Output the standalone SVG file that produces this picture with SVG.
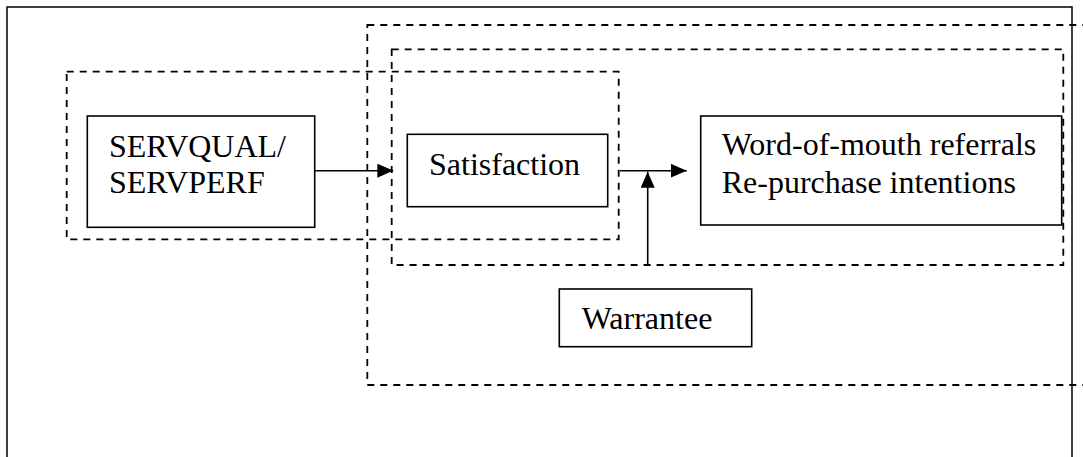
<svg xmlns="http://www.w3.org/2000/svg" width="1083" height="457" viewBox="0 0 1083 457">
<style>
.box{fill:#fff;stroke:#000;stroke-width:1.6}
.frame{fill:none;stroke:#000;stroke-width:1.5}
.dash{fill:none;stroke:#000;stroke-width:1.8;stroke-dasharray:7 6}
.t{font-family:"Liberation Serif","Times New Roman",serif;font-size:32px;fill:#000}
.c{fill:none;stroke:#000;stroke-width:1.6}
</style>
<defs>
<marker id="ah" viewBox="0 0 16 14" refX="16" refY="7" markerWidth="16" markerHeight="14" markerUnits="userSpaceOnUse" orient="auto">
<path d="M0,0 L16,7 L0,14 Z" fill="#000"/>
</marker>
</defs>
<rect width="1083" height="457" fill="#fff"/>
<rect class="frame" x="7" y="7" width="1065" height="470"/>
<g id="groups">
<rect class="dash" x="367.3" y="25" width="740" height="360"/>
<rect class="dash" x="391.7" y="49.3" width="671.6" height="215.7"/>
<rect class="dash" x="66.7" y="71.7" width="552" height="167.6"/>
</g>
<g id="connectors">
<line class="c" x1="314.7" y1="170.7" x2="393.3" y2="170.7" marker-end="url(#ah)"/>
<line class="c" x1="620" y1="170.7" x2="686.7" y2="170.7" marker-end="url(#ah)"/>
<line class="c" x1="647.7" y1="265" x2="647.7" y2="171.7" marker-end="url(#ah)"/>
</g>
<g id="servqual">
<rect class="box" x="87.3" y="116" width="227.4" height="111.3"/>
<text class="t" x="109" y="156.7">SERVQUAL/</text>
<text class="t" x="109" y="193.3">SERVPERF</text>
</g>
<g id="satisfaction">
<rect class="box" x="407.3" y="134.3" width="200.4" height="72.4"/>
<text class="t" x="429" y="175">Satisfaction</text>
</g>
<g id="outcomes">
<rect class="box" x="700.7" y="116" width="361" height="109"/>
<text class="t" x="721.7" y="155">Word-of-mouth referrals</text>
<text class="t" x="721.7" y="193">Re-purchase intentions</text>
</g>
<g id="warrantee">
<rect class="box" x="559.3" y="289" width="192.4" height="57.7"/>
<text class="t" x="581.7" y="329">Warrantee</text>
</g>
</svg>
